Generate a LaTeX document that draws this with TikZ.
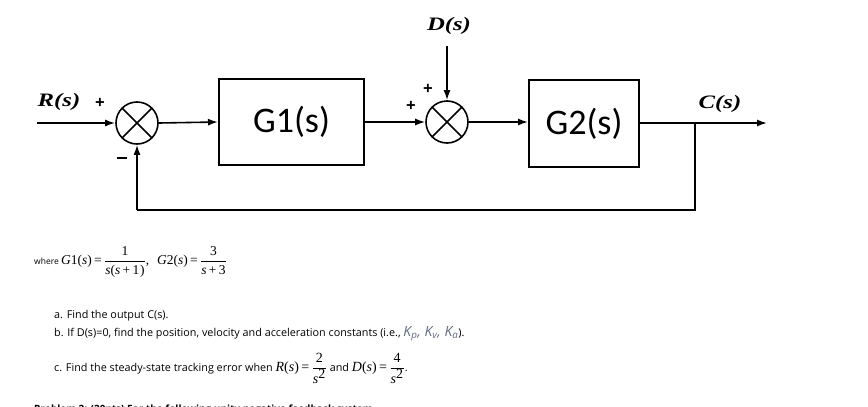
\documentclass[tikz,border=0pt]{standalone}
\usepackage[no-math]{fontspec}
\usetikzlibrary{arrows.meta}
\setmainfont{Open Sans}
\newfontfamily\blockfont{Carlito}
\newfontfamily\labfont[FakeStretch=1.3]{Liberation Serif}
\newfontfamily\mathlike[LetterSpace=6]{Liberation Serif}
\newcommand{\mv}[1]{\hbox{\mathlike\itshape #1}}
\newcommand{\mr}[1]{\hbox{\mathlike #1}}
\begin{document}
\begin{tikzpicture}[x=1pt,y=-1pt,
  sig/.style={line width=1.6pt},
  arr/.style={sig,-{Latex[length=10pt,width=7pt]}},
  blk/.style={draw,line width=2pt,minimum width=145pt,minimum height=86pt,font=\blockfont\fontsize{36}{40}\selectfont},
  blk2/.style={draw,line width=2pt,minimum width=110pt,minimum height=87pt,font=\blockfont\fontsize{36}{40}\selectfont},
  summer/.style={draw,circle,line width=1.6pt,minimum size=42pt,inner sep=0pt,
    path picture={\draw[line width=1.6pt] (path picture bounding box.north west) -- (path picture bounding box.south east)
      (path picture bounding box.north east) -- (path picture bounding box.south west);}},
  lab/.style={font=\labfont\fontsize{19}{20}\selectfont\bfseries\itshape},
  sgn/.style={font=\fontsize{17}{17}\selectfont\bfseries},
  txt/.style={font=\fontsize{10.8}{13}\selectfont,anchor=west,inner sep=0pt},
  wtxt/.style={font=\fontsize{8.5}{10}\selectfont,anchor=west,inner sep=0pt}
]
\useasboundingbox (0,0) rectangle (868,407);
\clip (0,0) rectangle (868,407);
\fill[white] (0,0) rectangle (868,407);

% nodes
\coordinate (rin) at (37,123);
\node[summer] (s1) at (137,123) {};
\node[blk] (g1) at (291.5,122) {G1(s)};
\node[summer] (s2) at (447,122) {};
\node[blk2] (g2) at (584,123.5) {G2(s)};
\coordinate (dtop) at (447,46);
\coordinate (br) at (695,123);
\coordinate (cout) at (767,123);
\coordinate (fb1) at (695,210);
\coordinate (fb2) at (137,210);

% labels
\node[lab] (rl) at (59,102) {R(s)};
\node[lab] (dl) at (449,26) {D(s)};
\node[lab] (cl) at (720,104) {C(s)};
\node[sgn] (p1) at (100,103) {+};
\node[inner sep=0pt] (m1) at (122,158) {\rule{10pt}{2.6pt}};
\node[sgn] (p2) at (428,89) {+};
\node[sgn] (p3) at (411,106) {+};

% connectors
\draw[arr] (rin) -- (s1.west);
\draw[arr] (s1.east) -- (g1.west);
\draw[arr] (g1.east) -- (s2.west);
\draw[arr] (dtop) -- (s2.north);
\draw[arr] (s2.east) -- (g2.west |- s2.east);
\draw[sig] (g2.east |- br) -- (br);
\draw[arr] (br) -- (cout);
\draw[sig] (br) -- (fb1) -- (fb2);
\draw[arr] (fb2) -- (s1.south);

% text
\node[wtxt] (w) at (34,262) {where {\fontsize{13.5}{15}\selectfont\(\displaystyle \mv{G}\mr{1}\mr{(}\mv{s}\mr{)}\,\mr{=}\,\frac{\mr{1}}{\mv{s}\mr{(}\mv{s}\mr{\,+\,1)}}\)\mr{,\; }\(\displaystyle \mv{G}\mr{2}\mr{(}\mv{s}\mr{)}\,\mr{=}\,\frac{\mr{3}}{\mv{s}\mr{\,+\,3}}\)}};
\node[txt] (ta) at (54,316) {a. Find the output C(s).};
\node[txt] (tb) at (54,334) {b. If D(s)=0, find the position, velocity and acceleration constants (i.e., {\color[rgb]{0.38,0.42,0.5}\fontsize{14}{14}\selectfont\itshape K\textsubscript{p}, K\textsubscript{v}, K\textsubscript{a}}).};
\node[txt] (tc) at (54,368) {c. Find the steady-state tracking error when {\fontsize{14}{16}\selectfont\(\displaystyle \mv{R}\mr{(}\mv{s}\mr{)}\,\mr{=}\,\frac{\mr{2}}{\mv{s}^{\mr{2}}}\)} and {\fontsize{14}{16}\selectfont\(\displaystyle \mv{D}\mr{(}\mv{s}\mr{)}\,\mr{=}\,\frac{\mr{4}}{\mv{s}^{\mr{2}}}\)}.};
\node[txt,font=\fontsize{10}{12}\selectfont] (tp) at (34,410) {\bfseries Problem 2: (20pts) For the following unity negative feedback system};
\end{tikzpicture}
\end{document}
